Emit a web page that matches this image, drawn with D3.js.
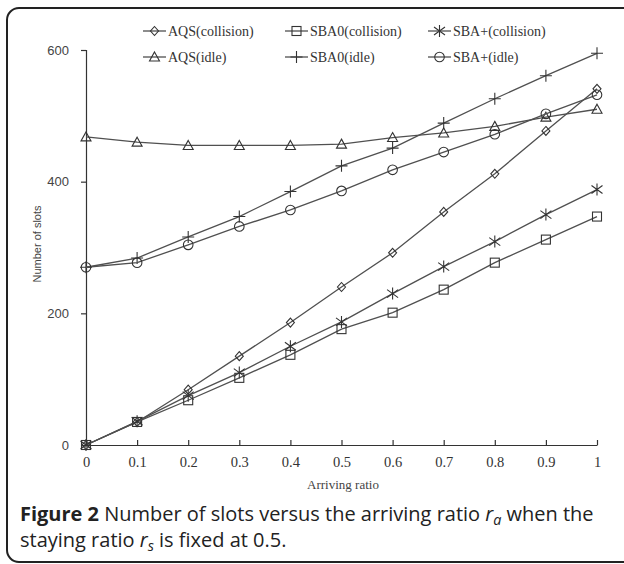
<!DOCTYPE html>
<html>
<head>
<meta charset="utf-8">
<script src="https://cdn.jsdelivr.net/npm/d3@7/dist/d3.min.js"></script>
<style>
  body { margin: 0; background: #fff; }
  svg { display: block; }
</style>
</head>
<body>
<div id="chart"></div>
<script>
// arriving ratio (x) and number of slots per series
var ratios = [0, 0.1, 0.2, 0.3, 0.4, 0.5, 0.6, 0.7, 0.8, 0.9, 1];
var aqsCollision = [0, 35, 84, 135, 186, 240, 292, 354, 412, 477, 541];
var sba0Collision = [0, 35, 68, 102, 137, 176, 201, 236, 277, 312, 347];
var sbaPlusCollision = [0, 36, 75, 110, 150, 187, 230, 271, 309, 350, 388];
var aqsIdle = [468, 460, 455, 455, 455, 457, 467, 474, 484, 498, 510];
var sba0Idle = [270, 284, 316, 347, 385, 424, 451, 489, 526, 561, 595];
var sbaPlusIdle = [270, 277, 304, 332, 357, 386, 418, 445, 472, 503, 532];
var yTicks = [0, 200, 400, 600];
var xTickLabels = ["0", "0.1", "0.2", "0.3", "0.4", "0.5", "0.6", "0.7", "0.8", "0.9", "1"];

var series = [
  { name: "AQS(collision)", values: aqsCollision, marker: "diamond" },
  { name: "SBA0(collision)", values: sba0Collision, marker: "square" },
  { name: "SBA+(collision)", values: sbaPlusCollision, marker: "star" },
  { name: "AQS(idle)", values: aqsIdle, marker: "triangle" },
  { name: "SBA0(idle)", values: sba0Idle, marker: "plus" },
  { name: "SBA+(idle)", values: sbaPlusIdle, marker: "circle" }
];

var width = 624, height = 564;
var svg = d3.select("#chart").append("svg")
  .attr("width", width)
  .attr("height", height);

// outer frame (right side runs off the picture)
svg.append("rect")
  .attr("x", 7).attr("y", 8)
  .attr("width", 660).attr("height", 554)
  .attr("rx", 12)
  .attr("fill", "none")
  .attr("stroke", "#222")
  .attr("stroke-width", 2);

var x = d3.scaleLinear().domain([0, 1]).range([86, 597]);
var y = d3.scaleLinear().domain([0, 600]).range([445, 50]);

var lineColor = "#505050";

// axes
var yAxis = svg.append("g")
  .attr("transform", "translate(" + x(0) + ",0)")
  .call(d3.axisLeft(y).tickValues(yTicks).tickSize(5).tickPadding(12));
yAxis.selectAll("text")
  .attr("font-family", "'Liberation Sans Narrow', 'Liberation Sans', Arial, sans-serif")
  .attr("font-size", 13)
  .attr("fill", "#444");

var xAxis = svg.append("g")
  .attr("transform", "translate(0," + y(0) + ")")
  .call(d3.axisBottom(x).tickValues(ratios).tickSizeInner(-5).tickSizeOuter(0).tickPadding(12)
    .tickFormat(function(d, i) { return xTickLabels[i]; }));
xAxis.selectAll("text")
  .attr("font-family", "'Liberation Serif', 'Times New Roman', serif")
  .attr("font-size", 14.5)
  .attr("fill", "#333");

svg.selectAll(".domain, .tick line")
  .attr("stroke", "#333")
  .attr("stroke-width", 1.2);

// axis titles
svg.append("text")
  .attr("transform", "translate(41,244) rotate(-90)")
  .attr("text-anchor", "middle")
  .attr("font-family", "'Liberation Sans Narrow', 'Liberation Sans', Arial, sans-serif")
  .attr("font-size", 11)
  .attr("fill", "#444")
  .text("Number of slots");

svg.append("text")
  .attr("x", 343).attr("y", 489)
  .attr("text-anchor", "middle")
  .attr("font-family", "'Liberation Serif', 'Times New Roman', serif")
  .attr("font-size", 13)
  .attr("fill", "#444")
  .text("Arriving ratio");

// marker drawing
function drawMarker(g, type) {
  var st = { fill: "none", stroke: "#333", "stroke-width": 1.1 };
  var m;
  if (type === "diamond") {
    m = g.append("path").attr("d", "M0,-4.5L4,0L0,4.5L-4,0Z");
  } else if (type === "square") {
    m = g.append("rect").attr("x", -4.5).attr("y", -4.5).attr("width", 9).attr("height", 9);
  } else if (type === "triangle") {
    m = g.append("path").attr("d", "M0,-5L5,4L-5,4Z");
  } else if (type === "circle") {
    m = g.append("circle").attr("r", 4.8);
  } else if (type === "plus") {
    m = g.append("path").attr("d", "M-6,0H6M0,-6V6");
  } else if (type === "star") {
    m = g.append("path").attr("d", "M0,-6V6M-5.5,-4L5.5,4M5.5,-4L-5.5,4");
  }
  Object.keys(st).forEach(function(k) { m.attr(k, st[k]); });
}

var line = d3.line()
  .x(function(d, i) { return x(ratios[i]); })
  .y(function(d) { return y(d); });

series.forEach(function(s) {
  svg.append("path")
    .datum(s.values)
    .attr("d", line)
    .attr("fill", "none")
    .attr("stroke", lineColor)
    .attr("stroke-width", 1.3);

  svg.append("g").selectAll("g")
    .data(s.values)
    .enter()
    .append("g")
    .attr("transform", function(d, i) { return "translate(" + x(ratios[i]) + "," + y(d) + ")"; })
    .each(function() { drawMarker(d3.select(this), s.marker); });
});

// legend
var legendCols = [143, 285, 428];
var legendRows = [31, 57];
series.forEach(function(s, i) {
  var lx = legendCols[i % 3], ly = legendRows[Math.floor(i / 3)];
  var g = svg.append("g").attr("transform", "translate(" + lx + "," + ly + ")");
  g.append("line")
    .attr("x1", 0).attr("x2", 23)
    .attr("stroke", lineColor).attr("stroke-width", 1.3);
  drawMarker(g.append("g").attr("transform", "translate(11.5,0)"), s.marker);
  g.append("text")
    .attr("x", 25).attr("y", 5)
    .attr("font-family", "'Liberation Serif', 'Times New Roman', serif")
    .attr("font-size", 14)
    .attr("fill", "#333")
    .text(s.name);
});

// caption
var capFont = "'Open Sans', 'Noto Sans', sans-serif";
var cap1 = svg.append("text")
  .attr("x", 20).attr("y", 521)
  .attr("font-family", capFont)
  .attr("font-size", 18)
  .attr("fill", "#222");
cap1.append("tspan").attr("font-weight", "bold").text("Figure 2");
cap1.append("tspan").text(" Number of slots versus the arriving ratio ");
cap1.append("tspan").attr("font-style", "italic").text("r");
cap1.append("tspan").attr("font-style", "italic").attr("font-size", 13).attr("dy", 4).text("a");
cap1.append("tspan").attr("dy", -4).text(" when the");

var cap2 = svg.append("text")
  .attr("x", 20).attr("y", 547)
  .attr("font-family", capFont)
  .attr("font-size", 18)
  .attr("fill", "#222");
cap2.append("tspan").text("staying ratio ");
cap2.append("tspan").attr("font-style", "italic").text("r");
cap2.append("tspan").attr("font-style", "italic").attr("font-size", 13).attr("dy", 4).text("s");
cap2.append("tspan").attr("dy", -4).text(" is fixed at 0.5.");

// fit caption width to the reference line length
var w1 = cap1.node().getComputedTextLength();
var fs = 18 * 574 / w1;
[cap1, cap2].forEach(function(c) {
  c.attr("font-size", fs);
  c.selectAll("tspan").filter(function() { return d3.select(this).attr("font-size") === "13"; })
    .attr("font-size", fs * 0.72);
});
</script>
</body>
</html>
